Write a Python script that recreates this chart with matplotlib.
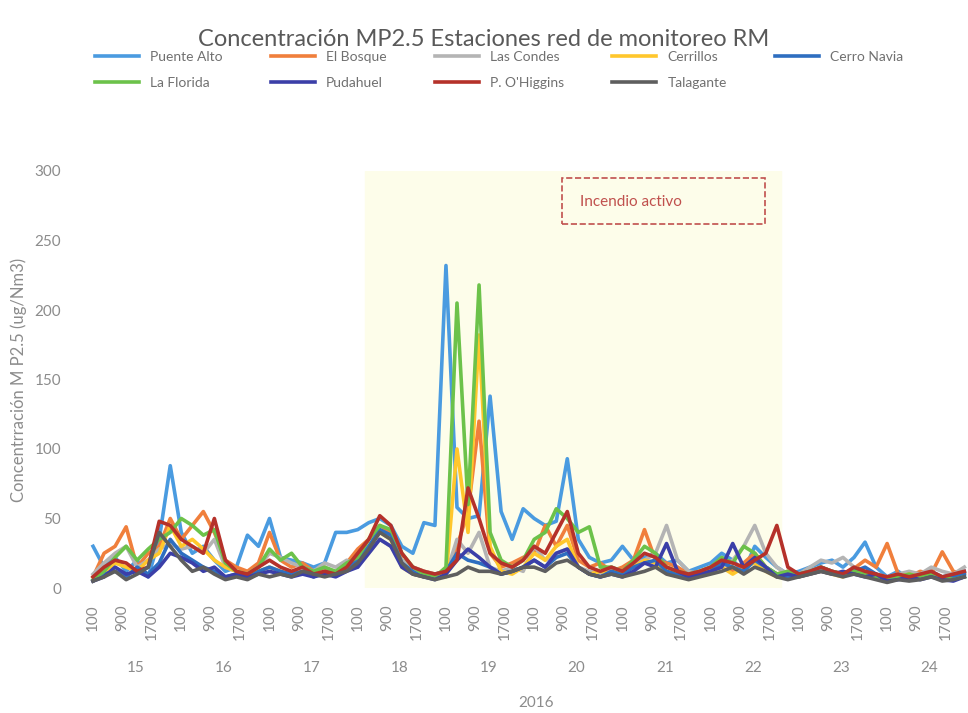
import numpy as np
import matplotlib.pyplot as plt
from matplotlib.patches import Rectangle

plt.rcParams['font.family'] = ['Lato', 'DejaVu Sans']

# 1. Datos (cada 3 horas, dias 15 al 24)
horas = np.arange(0, 240, 3)
dias = [15, 16, 17, 18, 19, 20, 21, 22, 23, 24]
etiquetas_hora = ['100', '900', '1700']

puente_alto = [30, 15, 22, 12, 20, 8, 35, 88,
               40, 25, 30, 20, 12, 15, 38, 30,
               50, 22, 20, 18, 15, 18, 40, 40,
               42, 47, 50, 45, 30, 25, 47, 45,
               232, 58, 50, 52, 138, 55, 35, 57,
               50, 45, 48, 93, 35, 22, 18, 20,
               30, 20, 22, 25, 18, 20, 12, 15,
               18, 25, 20, 12, 30, 22, 15, 10,
               12, 15, 18, 20, 15, 22, 33, 15,
               8, 12, 6, 10, 12, 8, 10, 12]
el_bosque = [8, 25, 30, 44, 15, 25, 30, 50,
             35, 45, 55, 40, 20, 15, 12, 18,
             40, 20, 15, 18, 12, 15, 10, 18,
             28, 35, 45, 40, 20, 15, 12, 10,
             12, 30, 55, 120, 25, 15, 18, 22,
             25, 45, 30, 45, 20, 15, 18, 12,
             15, 20, 42, 20, 18, 15, 10, 12,
             15, 20, 12, 18, 25, 15, 10, 12,
             10, 12, 15, 12, 10, 14, 20, 15,
             32, 10, 8, 12, 10, 26, 12, 10]
las_condes = [10, 18, 25, 30, 15, 20, 28, 32,
              28, 30, 25, 35, 15, 12, 10, 15,
              25, 22, 18, 15, 12, 18, 15, 20,
              15, 25, 35, 30, 20, 15, 12, 10,
              10, 35, 25, 40, 15, 12, 15, 12,
              30, 20, 25, 28, 15, 12, 10, 15,
              12, 18, 20, 25, 45, 20, 12, 10,
              12, 15, 20, 30, 45, 25, 15, 10,
              10, 15, 20, 18, 22, 15, 12, 10,
              8, 10, 12, 10, 15, 12, 10, 15]
cerrillos = [5, 10, 18, 15, 12, 20, 25, 45,
             30, 35, 28, 20, 15, 12, 10, 12,
             15, 12, 10, 12, 10, 12, 10, 15,
             20, 30, 40, 35, 15, 10, 8, 10,
             8, 100, 40, 182, 30, 12, 10, 15,
             25, 20, 30, 35, 15, 10, 12, 10,
             10, 15, 20, 18, 12, 10, 8, 10,
             12, 15, 10, 15, 18, 12, 8, 10,
             8, 10, 12, 10, 8, 12, 10, 8,
             6, 8, 10, 8, 10, 8, 6, 8]
cerro_navia = [5, 10, 12, 8, 15, 10, 18, 35,
               25, 20, 15, 12, 8, 10, 8, 12,
               15, 12, 10, 12, 8, 12, 10, 15,
               20, 30, 42, 38, 18, 12, 8, 10,
               12, 25, 20, 18, 15, 10, 12, 15,
               20, 15, 22, 25, 15, 10, 8, 12,
               10, 15, 18, 20, 12, 10, 8, 10,
               12, 18, 15, 12, 20, 15, 10, 8,
               10, 12, 15, 12, 10, 12, 15, 10,
               5, 8, 6, 8, 10, 6, 8, 10]
la_florida = [6, 12, 22, 30, 20, 28, 35, 40,
              50, 45, 38, 42, 18, 12, 10, 15,
              28, 20, 25, 15, 12, 15, 12, 18,
              22, 35, 45, 42, 25, 15, 10, 8,
              15, 205, 60, 218, 40, 20, 15, 20,
              35, 40, 57, 50, 40, 44, 15, 15,
              12, 20, 30, 25, 15, 12, 10, 12,
              15, 22, 18, 30, 25, 15, 10, 12,
              10, 12, 15, 12, 10, 12, 10, 8,
              6, 8, 10, 8, 10, 8, 6, 8]
pudahuel = [5, 8, 15, 10, 12, 8, 15, 25,
            22, 18, 12, 15, 8, 10, 8, 10,
            12, 10, 8, 10, 8, 10, 8, 12,
            15, 25, 35, 30, 15, 10, 8, 6,
            10, 20, 28, 22, 15, 10, 12, 15,
            20, 15, 25, 28, 15, 10, 8, 10,
            8, 12, 18, 15, 32, 12, 8, 10,
            12, 15, 32, 15, 22, 15, 8, 10,
            8, 10, 12, 10, 12, 10, 8, 10,
            5, 6, 8, 6, 8, 6, 5, 8]
p_ohiggins = [8, 15, 20, 18, 12, 15, 48, 45,
              35, 30, 25, 50, 20, 12, 10, 15,
              20, 15, 12, 15, 10, 12, 10, 15,
              25, 35, 52, 45, 25, 15, 12, 10,
              12, 20, 72, 50, 25, 18, 15, 20,
              30, 25, 40, 55, 25, 15, 12, 15,
              12, 18, 25, 22, 15, 12, 10, 12,
              15, 20, 18, 15, 20, 25, 45, 15,
              10, 12, 15, 12, 10, 15, 12, 10,
              8, 10, 8, 10, 12, 8, 10, 12]
talagante = [5, 8, 12, 6, 10, 15, 40, 30,
             20, 12, 15, 10, 6, 8, 6, 10,
             8, 10, 8, 12, 10, 8, 10, 12,
             18, 28, 40, 35, 18, 10, 8, 6,
             8, 10, 15, 12, 12, 10, 12, 15,
             15, 12, 18, 20, 15, 10, 8, 10,
             8, 10, 12, 15, 10, 8, 6, 8,
             10, 12, 15, 10, 15, 12, 8, 6,
             8, 10, 12, 10, 8, 10, 8, 6,
             4, 6, 5, 6, 8, 5, 6, 8]

estaciones = [
    ('Puente Alto', puente_alto, '#4A9BE0'),
    ('El Bosque', el_bosque, '#F07F3C'),
    ('Las Condes', las_condes, '#B4B4B4'),
    ('Cerrillos', cerrillos, '#FFC72C'),
    ('Cerro Navia', cerro_navia, '#2E6EC0'),
    ('La Florida', la_florida, '#6CC24A'),
    ('Pudahuel', pudahuel, '#3B3FA8'),
    ("P. O'Higgins", p_ohiggins, '#B5312A'),
    ('Talagante', talagante, '#5E5E5E'),
]

# periodo del incendio (horas)
incendio_ini, incendio_fin = 74, 187

gris = '#8C8C8C'

# 2. Figura
fig = plt.figure(figsize=(9.68, 7.13), dpi=100)
ax = fig.add_axes([89 / 968, 125 / 713, 879 / 968, 417 / 713])

ax.axvspan(incendio_ini, incendio_fin, color='#FDFDEA', zorder=0)

lineas = {}
for nombre, valores, color in estaciones:
    l, = ax.plot(horas, valores, color=color, lw=2.6, label=nombre)
    lineas[nombre] = l

ax.set_xlim(-1.1, 238)
ax.set_ylim(0, 300)
ax.set_yticks(range(0, 301, 50))
ticks_x = np.arange(0, 240, 8)
ax.set_xticks(ticks_x)
ax.set_xticklabels([etiquetas_hora[i % 3] for i in range(len(ticks_x))],
                   rotation=90, va='top')
ax.tick_params(length=0, colors=gris, labelsize=11)
ax.tick_params(axis='x', pad=12)
ax.tick_params(axis='y', pad=20)
for s in ax.spines.values():
    s.set_visible(False)

# etiquetas de dia
for i, d in enumerate(dias):
    ax.text(24 * i + 11.5, -0.192, str(d), transform=ax.get_xaxis_transform(),
            ha='center', va='center', fontsize=11, color=gris)

ax.set_ylabel('Concentrración M P2.5 (ug/Nm3)', fontsize=12, color=gris)
ax.yaxis.set_label_coords(-62 / 879, 0.5)

fig.text(536 / 968, 1 - 703 / 713, '2016', ha='center', va='center', fontsize=11, color=gris)
fig.text(484 / 968, 1 - 40 / 713, 'Concentración MP2.5 Estaciones red de monitoreo RM',
         ha='center', va='center', fontsize=17, color='#595959')

# recuadro incendio
fig.patches.append(Rectangle((562 / 968, 1 - 224 / 713), 203 / 968, 46 / 713,
                             transform=fig.transFigure, fill=False, ec='#C0504D',
                             ls='--', lw=1.2))
fig.text(580 / 968, 1 - 202 / 713, 'Incendio activo', ha='left', va='center',
         fontsize=11, color='#C0504D')

# leyenda (orden por columnas para que quede por filas)
orden = ['Puente Alto', 'La Florida', 'El Bosque', 'Pudahuel', 'Las Condes',
         "P. O'Higgins", 'Cerrillos', 'Talagante', 'Cerro Navia']
fig.legend([lineas[n] for n in orden], orden, ncol=5, mode='expand',
           loc='center', bbox_to_anchor=(89 / 968, 1 - 100 / 713, 820 / 968, 60 / 713),
           frameon=False, fontsize=10, handlelength=3.2, labelspacing=1.0,
           labelcolor='#707070', borderaxespad=0)

fig.savefig('out.png', dpi=100)
